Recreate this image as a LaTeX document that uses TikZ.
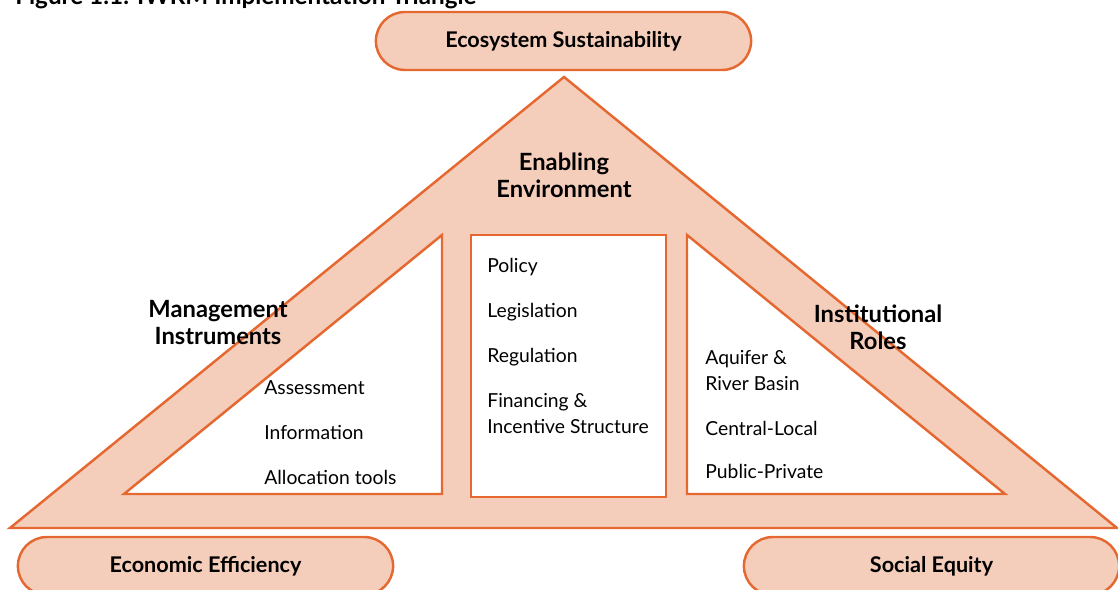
\documentclass[tikz,border=0pt]{standalone}
\usepackage{fontspec}
\setmainfont{Lato}
\usetikzlibrary{shapes.misc}

\definecolor{roofline}{RGB}{229,104,49}
\definecolor{rooffill}{RGB}{245,206,187}

\tikzset{
  pill/.style={rounded rectangle, draw=roofline, fill=rooffill, line width=1.4pt,
    minimum width=7.74cm, minimum height=1.16cm,
    font=\bfseries\fontsize{12.3}{14}\selectfont},
  heading/.style={font=\bfseries\fontsize{13.5}{15.5}\selectfont, align=center, anchor=base, inner sep=0pt},
  item/.style={font=\fontsize{11}{15}\selectfont, align=left, anchor=base west, inner sep=0pt},
  panel/.style={draw=roofline, fill=white, line width=1.4pt},
}

\begin{document}
\begin{tikzpicture}[x=0.02cm, y=-0.02cm]

\clip (0,0) rectangle (1118,590);

\node[font=\bfseries\fontsize{13.8}{16}\selectfont, anchor=base west, inner sep=0pt] (title) at (15,5)
  {Figure 1.1: IWRM Implementation Triangle};

% roof and the three panels
\filldraw [draw=roofline, fill=rooffill, line width=1.4pt]
(564, 77) --
(10, 528) --
(1117, 528) -- cycle;

\filldraw [panel] (442, 235) -- (124, 494) -- (442, 494) -- cycle;
\filldraw [panel] (471, 235) rectangle (666, 497);
\filldraw [panel] (687, 235) -- (687, 494) -- (1005, 494) -- cycle;

\node[pill] (ecosys) at (563.5, 41) {Ecosystem Sustainability};
\node[pill] (econ) at (205.5, 566) {Economic Efficiency};
\node[pill] (equity) at (931.5, 566) {Social Equity};

% base anchor sits on the last line
\node[heading] (enabling) at (564, 198) {Enabling\\Environment};
\node[heading] (mgmt) at (218, 345) {Management\\Instruments};
\node[heading] (inst) at (878, 350) {Institutional\\Roles};

\node[item] (assess) at (264, 395) {Assessment};
\node[item] (info) at (264, 440) {Information};
\node[item] (alloc) at (264, 485) {Allocation tools};

\node[item] (policy) at (487, 273) {Policy};
\node[item] (legis) at (487, 318) {Legislation};
\node[item] (regul) at (487, 363) {Regulation};
\node[item] (financing) at (487, 434) {Financing \&\\Incentive Structure};

\node[item] (aquifer) at (705, 391) {Aquifer \&\\River Basin};
\node[item] (central) at (705, 436) {Central-Local};
\node[item] (public) at (705, 479) {Public-Private};

\end{tikzpicture}
\end{document}
